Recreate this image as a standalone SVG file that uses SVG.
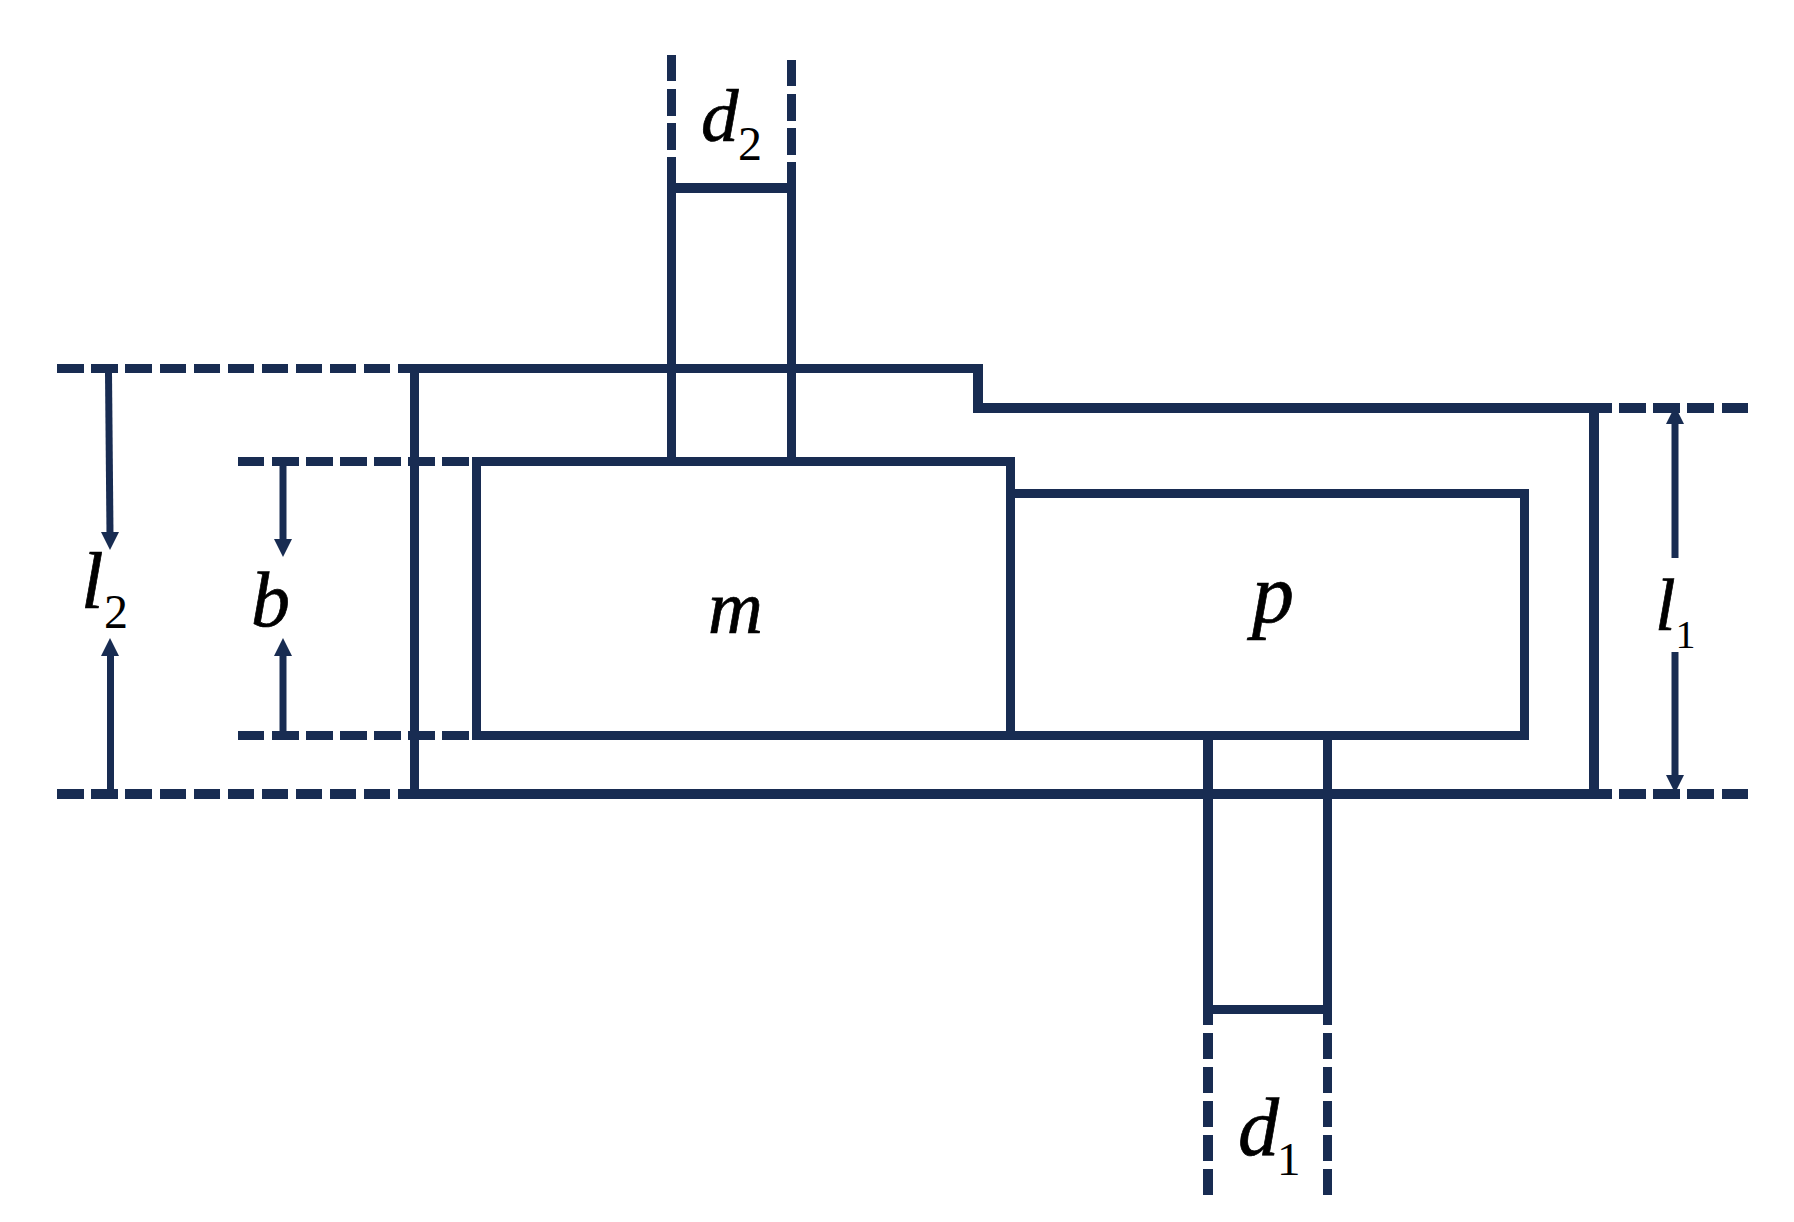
<svg xmlns="http://www.w3.org/2000/svg" width="1794" height="1222" viewBox="0 0 1794 1222">
<style>
.s{fill:none;stroke:#182c52;stroke-width:9;stroke-linecap:butt;stroke-linejoin:miter}
.t{fill:none;stroke:#182c52;stroke-width:10;stroke-linecap:butt;stroke-linejoin:miter}
.a{fill:none;stroke:#182c52;stroke-width:7}
.h{fill:#182c52;stroke:none}
text{font-family:"Liberation Serif","Times New Roman",serif;fill:#000}
.i{font-style:italic;stroke:#000;stroke-width:.7}
</style>
<rect width="1794" height="1222" fill="#fff"/>
<g id="housing">
<path class="s" d="M398 368.5H983"/>
<path class="t" d="M978 364V413M973 408H1612M1594 403V794M398 794H1612"/>
<path class="s" d="M414.5 364V794"/>
</g>
<g id="extension-lines">
<path class="s" d="M57 368.5H84M91 368.5H118M125 368.5H152M160 368.5H186M194 368.5H220M228 368.5H254M262 368.5H288M296 368.5H322M330 368.5H356M364 368.5H390"/>
<path class="t" d="M57 794H84M91 794H118M125 794H152M160 794H186M194 794H220M228 794H254M262 794H288M296 794H322M330 794H356M364 794H390"/>
<path class="s" d="M238 461.5H264M272 461.5H299M306 461.5H333M340 461.5H367M374 461.5H401M408 461.5H435M442 461.5H469"/>
<path class="s" d="M238 735.5H264M272 735.5H299M306 735.5H333M340 735.5H367M374 735.5H401M408 735.5H435M442 735.5H469"/>
<path class="t" d="M1619 408H1646M1653 408H1680M1687 408H1714M1722 408H1748"/>
<path class="t" d="M1619 794H1646M1653 794H1680M1687 794H1714M1722 794H1748"/>
<path class="s" d="M671.5 55V81M671.5 89V116M671.5 123V150"/>
<path class="s" d="M791.5 60V86M791.5 94V121M791.5 128V155"/>
<path class="t" d="M1208 1033V1059M1208 1067V1093M1208 1101V1127M1208 1135V1161M1208 1169V1195"/>
<path class="s" d="M1327.5 1033V1059M1327.5 1067V1093M1327.5 1101V1127M1327.5 1135V1161M1327.5 1169V1195"/>
</g>
<g id="shaft-d2">
<path class="s" d="M671.5 157V461M791.5 162V461"/>
<path class="t" d="M676 188H787"/>
</g>
<g id="shaft-d1">
<path class="t" d="M1208 736V1025"/>
<path class="s" d="M1327.5 736V1025M1213 1009.5H1323"/>
</g>
<g id="box-m">
<rect class="s" x="476.5" y="461.5" width="534" height="274"/>
<text class="i" x="708" y="632.5" font-size="76">m</text>
</g>
<g id="box-p">
<path class="s" d="M1010.5 493.5H1524.5V735.5H1010.5"/>
<text class="i" x="1252" y="622" font-size="84">p</text>
</g>
<g id="connectors">
<path class="a" d="M108.5 373L110 534"/>
<path class="h" d="M101 532H119L110 550Z"/>
<path class="a" d="M110.5 789V654"/>
<path class="h" d="M101 656H119L110 638Z"/>
<path class="a" d="M283 466V541"/>
<path class="h" d="M274 539H292L283 557Z"/>
<path class="a" d="M283 731V654"/>
<path class="h" d="M274 656H292L283 638Z"/>
<path class="a" d="M1675 558V422"/>
<path class="h" d="M1666 424H1684L1675 406Z"/>
<path class="a" d="M1675 652V777"/>
<path class="h" d="M1666 775H1684L1675 793Z"/>
</g>
<g id="labels">
<text x="701" y="141"><tspan class="i" font-size="75">d</tspan><tspan x="738" y="160" font-size="48">2</tspan></text>
<text x="81" y="608"><tspan class="i" font-size="81">l</tspan><tspan x="104" y="628" font-size="48">2</tspan></text>
<text x="251" y="626"><tspan class="i" font-size="78">b</tspan></text>
<text x="1655" y="630"><tspan class="i" font-size="74">l</tspan><tspan x="1675.5" y="648" font-size="40">1</tspan></text>
<text x="1238" y="1155"><tspan class="i" font-size="82">d</tspan><tspan x="1277" y="1175" font-size="47">1</tspan></text>
</g>
</svg>
